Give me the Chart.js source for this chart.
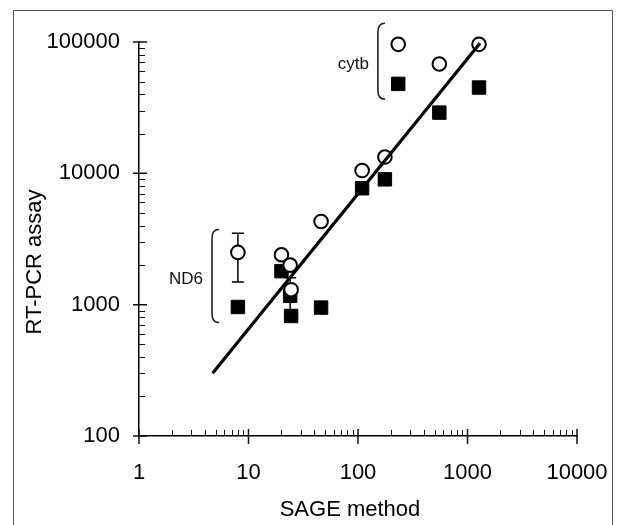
<!DOCTYPE html>
<html><head><meta charset="utf-8">
<script src="https://cdn.jsdelivr.net/npm/chart.js@4/dist/chart.umd.min.js"></script>
<style>html,body{margin:0;padding:0;background:#fff}canvas{display:block}</style>
</head><body>
<canvas id="c" width="619" height="525"></canvas>
<script>
// ---- data ----
const openX   = [8, 20, 24, 24.5, 46, 109, 176, 233, 553, 1274];
const openY   = [2500, 2400, 2000, 1300, 4300, 10500, 13300, 96000, 68000, 96000];
const filledX = [8, 20, 24, 24.5, 46, 109, 176, 233, 553, 1274];
const filledY = [960, 1800, 1170, 820, 950, 7700, 9000, 48000, 29000, 45000];
const fitX = [4.7, 1300];
const fitY = [300, 98000];
const errX    = [8, 24];
const errLow  = [1490, 880];
const errHigh = [3500, 1600];
const bracketLabels = ['cytb', 'ND6'];
const bracketX      = [152, 4.64];
const bracketTop    = [139000, 3740];
const bracketBottom = [36700, 730];
const xTickLabels = [1, 10, 100, 1000, 10000];
const yTickLabels = [100, 1000, 10000, 100000];
const xTitle = 'SAGE method';
const yTitle = 'RT-PCR assay';

const FONT = '"Liberation Sans", Arial, sans-serif';
const pts = (xs, ys) => xs.map((x, i) => ({x, y: ys[i]}));

const decor = {
  id: 'decor',
  beforeDraw(chart) {
    const c = chart.ctx;
    c.save();
    c.fillStyle = '#fff';
    c.fillRect(0, 0, chart.width, chart.height);
    c.strokeStyle = '#555';
    c.lineWidth = 1;
    c.beginPath();
    c.moveTo(13.5, 525); c.lineTo(13.5, 10.5); c.lineTo(612.5, 10.5); c.lineTo(612.5, 525);
    c.stroke();
    c.restore();
  },
  beforeDatasetsDraw(chart) {
    const c = chart.ctx, xs = chart.scales.x, ys = chart.scales.y;
    c.save();
    c.strokeStyle = '#000';
    c.lineWidth = 1.5;
    errX.forEach((v, i) => {
      const px = xs.getPixelForValue(v);
      const lo = ys.getPixelForValue(errLow[i]);
      const hi = ys.getPixelForValue(errHigh[i]);
      c.beginPath();
      c.moveTo(px, lo); c.lineTo(px, hi);
      c.moveTo(px - 6, lo); c.lineTo(px + 6, lo);
      c.moveTo(px - 6, hi); c.lineTo(px + 6, hi);
      c.stroke();
    });
    c.restore();
  },
  afterDraw(chart) {
    const c = chart.ctx, xs = chart.scales.x, ys = chart.scales.y;
    const ax = xs.getPixelForValue(xTickLabels[0]);
    const ay = ys.getPixelForValue(yTickLabels[0]);
    c.save();
    c.strokeStyle = '#111';
    c.lineWidth = 1;
    c.beginPath();
    for (let k = 0; k < yTickLabels.length - 1; k++) {
      for (let m = 2; m <= 9; m++) {
        const py = Math.round(ys.getPixelForValue(m * yTickLabels[k])) + 0.5;
        c.moveTo(ax, py); c.lineTo(ax + 6, py);
      }
    }
    for (let k = 0; k < xTickLabels.length - 1; k++) {
      for (let m = 2; m <= 9; m++) {
        const px = Math.round(xs.getPixelForValue(m * xTickLabels[k])) + 0.5;
        c.moveTo(px, ay); c.lineTo(px, ay - 6);
      }
    }
    c.stroke();
    c.lineWidth = 1.5;
    c.beginPath();
    yTickLabels.forEach(v => {
      const py = ys.getPixelForValue(v);
      c.moveTo(ax - 6, py); c.lineTo(ax + 8, py);
    });
    xTickLabels.forEach(v => {
      const px = xs.getPixelForValue(v);
      c.moveTo(px, ay - 7); c.lineTo(px, ay + 8);
    });
    c.stroke();
    // brackets
    c.lineWidth = 1.6;
    c.strokeStyle = '#222';
    c.fillStyle = '#111';
    c.font = '17px ' + FONT;
    c.textAlign = 'right';
    c.textBaseline = 'middle';
    bracketLabels.forEach((lab, i) => {
      const bx = xs.getPixelForValue(bracketX[i]);
      const t = ys.getPixelForValue(bracketTop[i]);
      const b = ys.getPixelForValue(bracketBottom[i]);
      c.beginPath();
      c.moveTo(bx + 7, t);
      c.quadraticCurveTo(bx, t, bx, t + 9);
      c.lineTo(bx, b - 9);
      c.quadraticCurveTo(bx, b, bx + 7, b);
      c.stroke();
      c.fillText(lab, bx - 9, (t + b) / 2 + 3);
    });
    // axis titles
    c.fillStyle = '#000';
    c.font = '22px ' + FONT;
    c.textAlign = 'center';
    c.fillText(xTitle, 350, 510);
    c.translate(35, 262);
    c.rotate(-Math.PI / 2);
    c.fillText(yTitle, 0, 0);
    c.restore();
  }
};

new Chart(document.getElementById('c'), {
  type: 'scatter',
  data: {
    datasets: [
      { label: 'fit', data: pts(fitX, fitY), showLine: true, borderColor: '#000', borderWidth: 3.2,
        pointRadius: 0, order: 0, clip: false },
      { label: 'open', data: pts(openX, openY), pointStyle: 'circle', pointRadius: 6.8,
        borderWidth: 2, borderColor: '#000', backgroundColor: '#fff', order: 1, clip: false },
      { label: 'filled', data: pts(filledX, filledY), pointStyle: 'rect', pointRadius: 9.5,
        borderWidth: 1, borderColor: '#000', backgroundColor: '#000', order: 2, clip: false }
    ]
  },
  options: {
    responsive: false,
    animation: false,
    devicePixelRatio: 1,
    layout: { padding: { top: 42, right: 42, left: 0, bottom: 0 } },
    plugins: { legend: { display: false }, tooltip: { enabled: false } },
    scales: {
      x: {
        type: 'logarithmic', min: 1, max: 10000,
        afterBuildTicks: s => { s.ticks = xTickLabels.map(v => ({ value: v })); },
        afterFit: s => { s.height = 89; s.paddingRight = 0; s.paddingLeft = 0; },
        ticks: { autoSkip: false, maxRotation: 0, padding: 24, color: '#000',
                 font: { family: FONT, size: 22 }, callback: v => String(v) },
        grid: { display: false, drawTicks: false },
        border: { display: true, color: '#000', width: 1.5 }
      },
      y: {
        type: 'logarithmic', min: 100, max: 100000,
        afterBuildTicks: s => { s.ticks = yTickLabels.map(v => ({ value: v })); },
        afterFit: s => { s.width = 139; s.paddingTop = 0; s.paddingBottom = 0; },
        ticks: { autoSkip: false, padding: 19, color: '#000',
                 font: { family: FONT, size: 22 }, callback: v => String(v) },
        grid: { display: false, drawTicks: false },
        border: { display: true, color: '#000', width: 1.5 }
      }
    }
  },
  plugins: [decor]
});
</script>
</body></html>
